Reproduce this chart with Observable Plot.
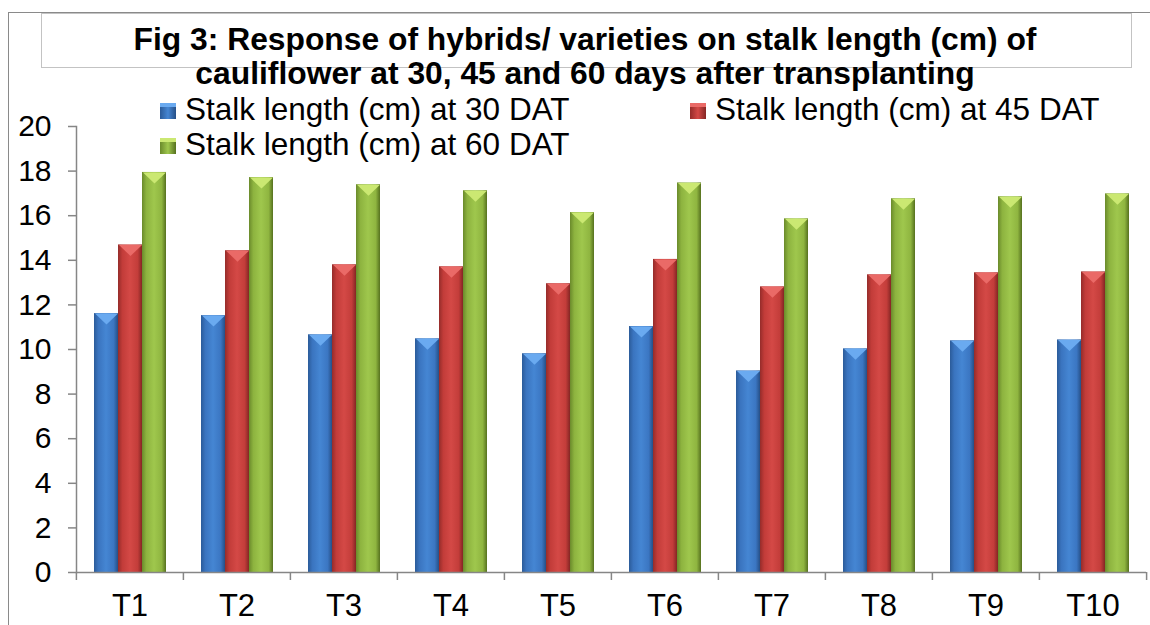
<!DOCTYPE html>
<html>
<head>
<meta charset="utf-8">
<script src="https://cdn.jsdelivr.net/npm/d3@7"></script>
<script src="https://cdn.jsdelivr.net/npm/@observablehq/plot@0.6"></script>
<style>
  html, body { margin: 0; padding: 0; background: #fff; }
  #wrap { position: relative; width: 1150px; height: 625px; overflow: hidden; font-family: "Liberation Sans", Arial, sans-serif; }
  #outer { position: absolute; left: 8px; top: 12px; width: 1300px; height: 800px; border-top: 1.5px solid #8a8a8a; border-left: 1.5px solid #8a8a8a; }
  #chart { position: absolute; left: 0; top: 0; }
  #tbox { position: absolute; left: 41px; top: 13px; width: 1089px; height: 53px; border: 1.5px solid #c3c3c3; background: #fff; }
  #title { position: absolute; left: 0; top: 23.5px; width: 1170px; text-align: center; font-weight: bold; font-size: 31.8px; color: #000; white-space: nowrap; }
  #title div { line-height: 31px; height: 31px; margin-bottom: 3px; }
  .sw { position: absolute; width: 16px; height: 16px; }
  .lt { position: absolute; font-size: 31.5px; line-height: 28px; height: 28px; color: #000; white-space: nowrap; }
</style>
</head>
<body>
<div id="wrap">
  <div id="outer"></div>
  <div id="chart"></div>
  <div id="tbox"></div>
  <div id="title"></div>
  <div id="legend"></div>
</div>
<script>
const titleLines = [
  "Fig 3: Response of hybrids/ varieties on stalk length (cm) of",
  "cauliflower at 30, 45 and 60 days after transplanting"
];
const categories = ["T1", "T2", "T3", "T4", "T5", "T6", "T7", "T8", "T9", "T10"];
const series = [
  "Stalk length (cm) at 30 DAT",
  "Stalk length (cm) at 45 DAT",
  "Stalk length (cm) at 60 DAT"
];
const dat30 = [11.61, 11.52, 10.66, 10.48, 9.81, 11.03, 9.04, 10.03, 10.39, 10.43];
const dat45 = [14.69, 14.43, 13.80, 13.71, 12.95, 14.04, 12.81, 13.35, 13.44, 13.48];
const dat60 = [17.94, 17.71, 17.39, 17.12, 16.14, 17.47, 15.86, 16.76, 16.85, 16.98];
const yTicks = [0, 2, 4, 6, 8, 10, 12, 14, 16, 18, 20];

const gradIds = ["gBlue", "gRed", "gGreen"];
const gradStops = [
  ["#2b5b99", "#3a74bf", "#4586d3", "#3b76c2", "#264f86"],
  ["#952c2a", "#c23c39", "#d44946", "#c33d3a", "#842624"],
  ["#6a8a2b", "#8db33f", "#9fc74d", "#8fb540", "#56711f"]
];
const topColors = ["#6aaaf0", "#ea6a67", "#cbe872"];

const rows = [];
[dat30, dat45, dat60].forEach((vals, s) => {
  categories.forEach((c, i) => rows.push({cat: c, series: series[s], value: vals[i]}));
});

// flat downward bevel triangle on top of each bar
const bevel = {
  draw(ctx) {
    ctx.moveTo(-11.5, 0);
    ctx.lineTo(11.5, 0);
    ctx.lineTo(0, 11);
    ctx.closePath();
  }
};

const W = 1150, H = 625, mL = 75, mR = 3;
const half = (W - mL - mR) / categories.length / 2;
const axisGray = "#868686";

const svg = Plot.plot({
  width: W,
  height: H,
  marginTop: 126,
  marginBottom: 53,
  marginLeft: mL,
  marginRight: mR,
  style: {background: "transparent", fontFamily: "'Liberation Sans', Arial, sans-serif", color: "#000", overflow: "visible"},
  fx: {domain: categories, padding: 0, label: null},
  x: {domain: series, paddingInner: 0, paddingOuter: 0.72, axis: null},
  y: {domain: [0, 20], label: null},
  color: {domain: series, range: gradIds.map(id => `url(#${id})`)},
  marks: [
    Plot.barY(rows, {fx: "cat", x: "series", y: "value", fill: "series"}),
    ...series.map((s, k) => Plot.dot(rows, {
      filter: d => d.series === s,
      fx: "cat", x: "series", y: "value",
      symbol: bevel, fill: topColors[k], stroke: "none"
    })),
    Plot.ruleY([0], {stroke: axisGray, strokeWidth: 1.5}),
    Plot.frame({anchor: "left", facetAnchor: "left", stroke: axisGray, strokeWidth: 1.5}),
    Plot.axisY({ticks: yTicks, tickSize: 8, tickPadding: 17, fontSize: 30, stroke: axisGray, strokeWidth: 1.5, fill: "#000", label: null}),
    Plot.axisFx({anchor: "bottom", tickSize: 8, dx: -half, stroke: axisGray, strokeWidth: 1.5, fill: "none", label: null}),
    Plot.axisFx({anchor: "bottom", ticks: ["T10"], tickSize: 8, dx: half, stroke: axisGray, strokeWidth: 1.5, fill: "none", label: null}),
    Plot.axisFx({anchor: "bottom", tickSize: 0, tickPadding: 21, fontSize: 31, fill: "#000", label: null})
  ]
});

// gradient definitions for bevelled bars
const defs = d3.select(svg).insert("defs", ":first-child");
gradIds.forEach((id, k) => {
  const g = defs.append("linearGradient").attr("id", id).attr("x1", 0).attr("x2", 1).attr("y1", 0).attr("y2", 0);
  const offs = [0, 0.18, 0.5, 0.82, 1];
  offs.forEach((o, j) => g.append("stop").attr("offset", o).attr("stop-color", gradStops[k][j]));
});

document.getElementById("chart").appendChild(svg);

// title
const t = document.getElementById("title");
titleLines.forEach(line => {
  const d = document.createElement("div");
  d.textContent = line;
  t.appendChild(d);
});

// legend
const legend = document.getElementById("legend");
const legendPos = [
  {sx: 160, sy: 103, tx: 185, ty: 95.1},
  {sx: 690, sy: 103, tx: 715, ty: 95.1},
  {sx: 160, sy: 138, tx: 185, ty: 130.1}
];
series.forEach((s, k) => {
  const p = legendPos[k];
  const sw = document.createElement("div");
  sw.className = "sw";
  sw.style.left = p.sx + "px";
  sw.style.top = p.sy + "px";
  const st = gradStops[k];
  sw.style.background = `linear-gradient(to bottom, ${topColors[k]} 0%, ${topColors[k]} 25%, transparent 25%), linear-gradient(to right, ${st[0]}, ${st[2]} 50%, ${st[4]})`;
  legend.appendChild(sw);
  const tx = document.createElement("div");
  tx.className = "lt";
  tx.style.left = p.tx + "px";
  tx.style.top = p.ty + "px";
  tx.textContent = s;
  legend.appendChild(tx);
});
</script>
</body>
</html>
